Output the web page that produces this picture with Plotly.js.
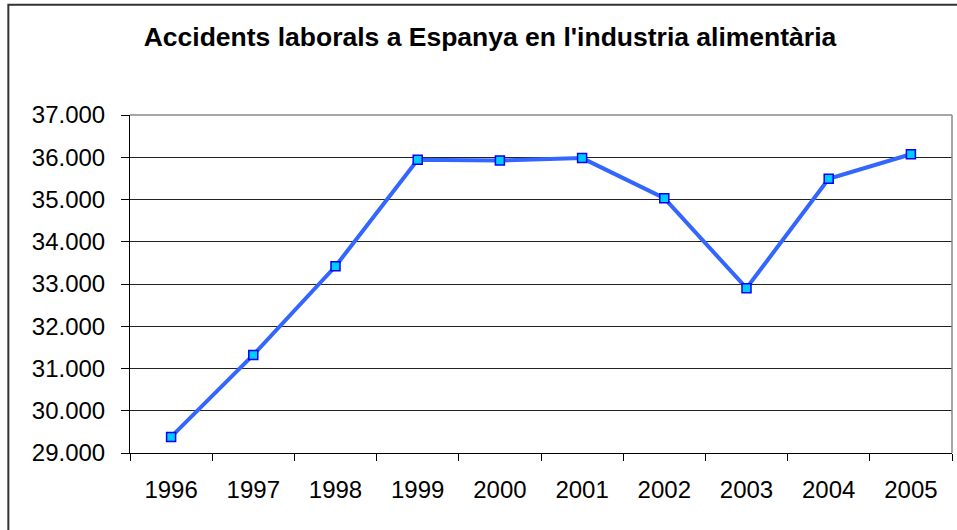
<!DOCTYPE html>
<html>
<head>
<meta charset="utf-8">
<script src="https://cdn.plot.ly/plotly-3.0.1.min.js"></script>
<style>html,body{margin:0;padding:0;background:#fff;}#chart{width:957px;height:530px;}</style>
</head>
<body>
<div id="chart"></div>
<script>
const years = ['1996','1997','1998','1999','2000','2001','2002','2003','2004','2005'];
const accidents = [29380, 31320, 33420, 35940, 35925, 35980, 35030, 32900, 35490, 36070];
const yTickVals = [29000, 30000, 31000, 32000, 33000, 34000, 35000, 36000, 37000];
const chartTitle = "Accidents laborals a Espanya en l'industria alimentària";

const trace = {
  type: 'scatter',
  mode: 'lines+markers',
  x: years,
  y: accidents,
  line: {color: '#3366ff', width: 4},
  marker: {symbol: 'square', size: 9, color: '#00ccff', line: {color: '#0000ff', width: 1.5}},
  cliponaxis: false,
  hoverinfo: 'skip'
};

const layout = {
  width: 957, height: 530,
  margin: {l: 130, r: 5, t: 115, b: 77},
  paper_bgcolor: '#fff', plot_bgcolor: '#fff',
  separators: ',.',
  font: {family: 'Liberation Sans, Arial, sans-serif', color: '#000'},
  showlegend: false,
  title: {
    text: '<b>' + chartTitle + '</b>',
    font: {size: 26.5, color: '#000'},
    x: 0.512, xref: 'container', xanchor: 'center',
    y: 0.931, yref: 'container', yanchor: 'middle'
  },
  xaxis: {
    type: 'category',
    range: [-0.5, 9.5],
    showgrid: false,
    showline: true, linecolor: '#000', linewidth: 1,
    ticks: 'outside', tickson: 'boundaries', ticklen: 7, tickcolor: '#000',
    ticklabelstandoff: 15,
    tickfont: {size: 24, color: '#000'},
    zeroline: false, fixedrange: true
  },
  yaxis: {
    range: [29000, 37000],
    tickvals: yTickVals,
    tickformat: ',d',
    showgrid: true, gridcolor: '#222', gridwidth: 1,
    showline: true, linecolor: '#000', linewidth: 1,
    ticks: 'outside', ticklen: 8, tickcolor: '#000',
    ticklabelstandoff: 11,
    tickfont: {size: 24, color: '#000'},
    zeroline: false, fixedrange: true
  },
  shapes: [
    {type: 'line', xref: 'paper', yref: 'paper', x0: 0, x1: 1, y0: 1, y1: 1, line: {color: '#888', width: 1.5}},
    {type: 'line', xref: 'paper', yref: 'paper', x0: 1, x1: 1, y0: 0, y1: 1, line: {color: '#888', width: 1.5}},
    {type: 'rect', xref: 'paper', yref: 'paper', x0: -0.148, x1: 1.02, y0: -0.25, y1: 1.326, line: {color: '#333', width: 2}, fillcolor: 'rgba(0,0,0,0)'}
  ]
};

Plotly.newPlot('chart', [trace], layout, {staticPlot: true, displayModeBar: false});
</script>
</body>
</html>
